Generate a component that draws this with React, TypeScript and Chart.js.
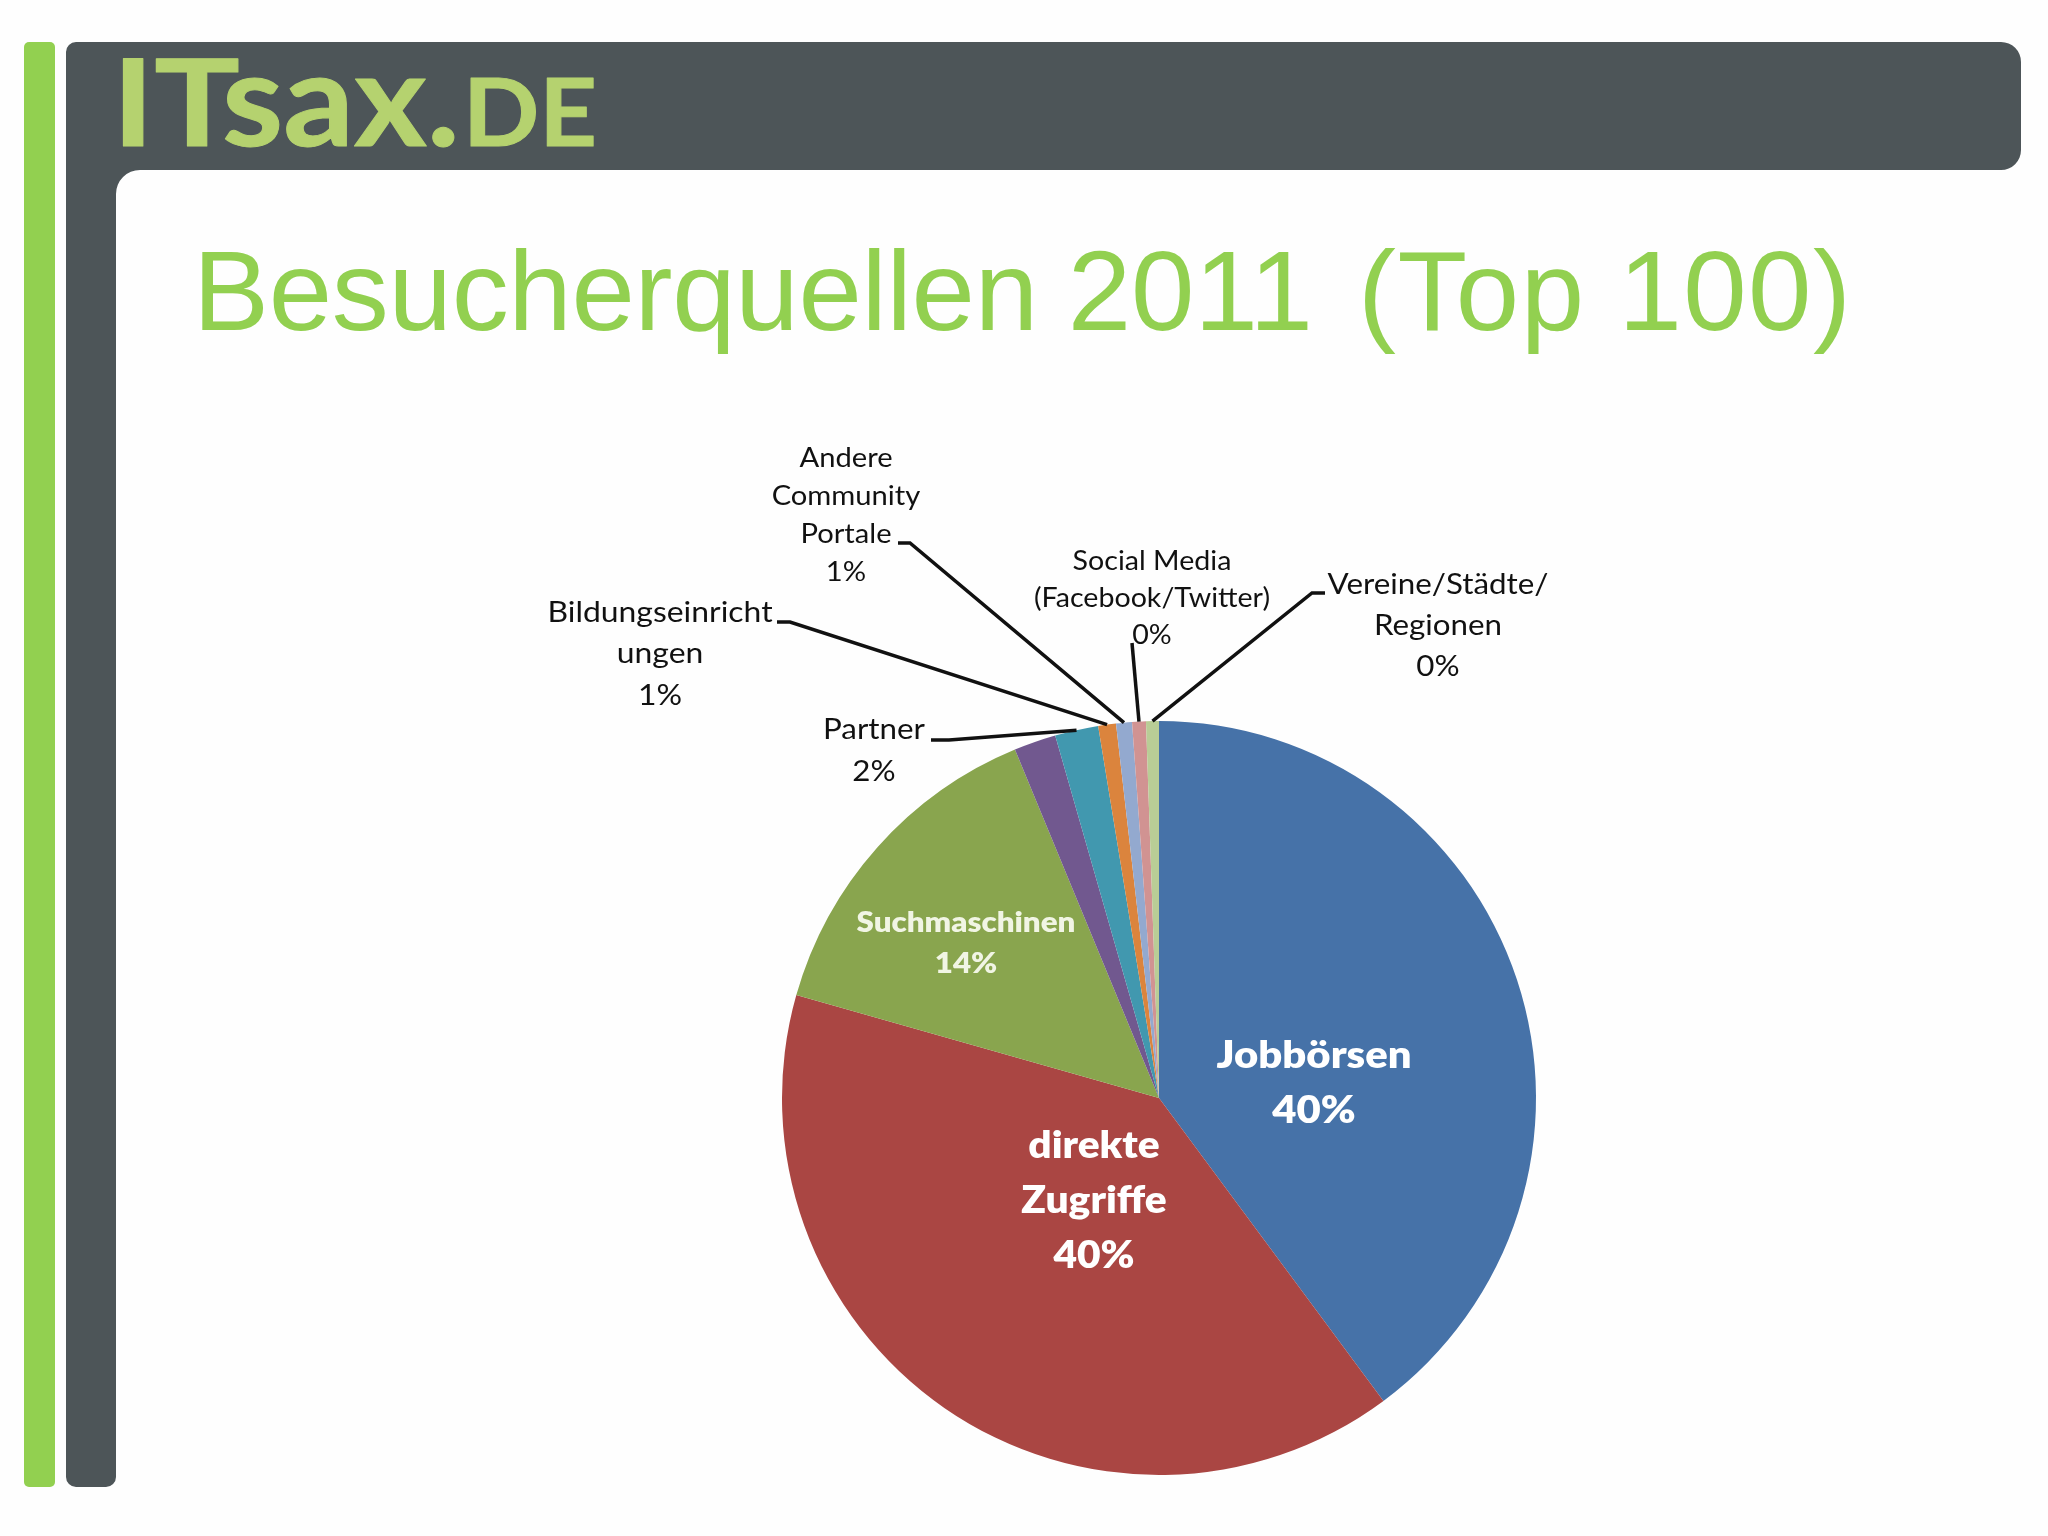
import React, { useEffect, useRef } from "react";
import { Chart, registerables } from "chart.js";

Chart.register(...registerables);

// The picture has nine slices; the ninth (unlabelled, purple) is kept as its own category.
const sliceNames = [
  "Jobbörsen",
  "direkte Zugriffe",
  "Suchmaschinen",
  "(ohne Beschriftung)",
  "Partner",
  "Bildungseinrichtungen",
  "Andere Community Portale",
  "Social Media (Facebook/Twitter)",
  "Vereine/Städte/Regionen",
];
const shares = [39.85, 39.55, 14.36, 1.8, 1.86, 0.76, 0.68, 0.59, 0.55];
const sliceColours = [
  "#4672a8", "#aa4643", "#89a54e", "#71588f", "#4198af",
  "#db843d", "#93a9cf", "#d19392", "#b9cd96",
];

const titleWords = ["Besucherquellen", "2011", "(Top 100)"];

type Label = {
  lines: string[];
  cx: number;
  ys: number[];
  size: number;
  sx: number;
  colour: string;
  weight: number;
  slice?: number;
  elbow?: number[][];
};

const DARK = "#111111";
const labels: Label[] = [
  { lines: ["Jobbörsen", "40%"], cx: 1314, ys: [1056, 1111], size: 38, sx: 1.1, colour: "#ffffff", weight: 800 },
  { lines: ["direkte", "Zugriffe", "40%"], cx: 1094, ys: [1146, 1201, 1256], size: 38, sx: 1.07, colour: "#ffffff", weight: 800 },
  { lines: ["Suchmaschinen", "14%"], cx: 966, ys: [923, 964], size: 29, sx: 1.08, colour: "#f1f5e4", weight: 800 },
  { lines: ["Partner", "2%"], cx: 874, ys: [730, 772], size: 29, sx: 1.08, colour: DARK, weight: 400, slice: 4, elbow: [[931, 740], [949, 740]] },
  { lines: ["Bildungseinricht", "ungen", "1%"], cx: 660, ys: [613, 654, 696], size: 29, sx: 1.1, colour: DARK, weight: 400, slice: 5, elbow: [[777, 622], [790, 622]] },
  { lines: ["Andere", "Community", "Portale", "1%"], cx: 846, ys: [458, 496, 534, 572], size: 27, sx: 1.08, colour: DARK, weight: 400, slice: 6, elbow: [[898, 543], [910, 543]] },
  { lines: ["Social Media", "(Facebook/Twitter)", "0%"], cx: 1152, ys: [562, 599, 636], size: 26, sx: 1.1, colour: DARK, weight: 400, slice: 7, elbow: [[1132, 643]] },
  { lines: ["Vereine/Städte/", "Regionen", "0%"], cx: 1438, ys: [585, 626, 667], size: 29, sx: 1.08, colour: DARK, weight: 400, slice: 8, elbow: [[1325, 593], [1312, 593]] },
];

const labelPlugin = {
  id: "sliceLabels",
  afterDatasetsDraw(chart: any) {
    const { ctx } = chart;
    const arcs = chart.getDatasetMeta(0).data;
    ctx.save();
    for (const l of labels) {
      if (l.slice !== undefined && l.elbow) {
        const a = arcs[l.slice];
        const mid = (a.startAngle + a.endAngle) / 2;
        const tx = a.x + Math.cos(mid) * a.outerRadius;
        const ty = a.y + Math.sin(mid) * a.outerRadius;
        ctx.beginPath();
        l.elbow.forEach((p, i) => (i === 0 ? ctx.moveTo(p[0], p[1]) : ctx.lineTo(p[0], p[1])));
        ctx.lineTo(tx, ty);
        ctx.strokeStyle = "#111111";
        ctx.lineWidth = 3.5;
        ctx.stroke();
      }
      ctx.font = `${l.weight} ${l.size}px Lato`;
      ctx.fillStyle = l.colour;
      ctx.textAlign = "center";
      ctx.textBaseline = "middle";
      l.lines.forEach((t, i) => {
        ctx.save();
        ctx.translate(l.cx, l.ys[i]);
        ctx.scale(l.sx, 1);
        ctx.fillText(t, 0, 0);
        ctx.restore();
      });
    }
    ctx.restore();
  },
};

export default function App() {
  const ref = useRef<HTMLCanvasElement>(null);
  useEffect(() => {
    const chart = new Chart(ref.current!, {
      type: "pie",
      data: {
        labels: sliceNames,
        datasets: [{ data: shares, backgroundColor: sliceColours, borderWidth: 0 }],
      },
      options: {
        animation: false,
        responsive: false,
        layout: { padding: { left: 782, right: 512, top: 721, bottom: 61 } },
        plugins: { legend: { display: false }, tooltip: { enabled: false } },
      },
      plugins: [labelPlugin],
    });
    return () => chart.destroy();
  }, []);
  return (
    <div style={{ position: "absolute", left: 0, top: 0, width: 2048, height: 1536, background: "#fefefe", overflow: "hidden" }}>
      <svg width={2048} height={1536} style={{ position: "absolute", left: 0, top: 0 }}>
        <rect x={24} y={42} width={31} height={1445} rx={5} fill="#92d050" />
        <path
          d="M76 42H2001A20 20 0 0 1 2021 62V150A20 20 0 0 1 2001 170H140A24 24 0 0 0 116 194V1477A10 10 0 0 1 106 1487H76A10 10 0 0 1 66 1477V52A10 10 0 0 1 76 42Z"
          fill="#4d5558"
        />
        <g fill="#b5d26f" stroke="#b5d26f" strokeWidth={1} strokeLinejoin="round" fontFamily="Lato" fontWeight={700}>
          <text x={112} y={146} fontSize={120} textLength={128} lengthAdjust="spacingAndGlyphs">IT</text>
          <text x={222} y={146} fontSize={130} textLength={238} lengthAdjust="spacingAndGlyphs">sax.</text>
          <text x={463} y={146} fontSize={94} textLength={134} lengthAdjust="spacingAndGlyphs">DE</text>
        </g>
        <text y={330} fontFamily="'Liberation Sans'" fontSize={114} fill="#92d050">
          <tspan x={193} letterSpacing={-0.3}>{titleWords[0]}</tspan>
          <tspan x={1036} letterSpacing={0}>{" " + titleWords[1]}</tspan>
          <tspan x={1325} letterSpacing={1.4}>{" " + titleWords[2]}</tspan>
        </text>
      </svg>
      <canvas ref={ref} width={2048} height={1536} style={{ position: "absolute", left: 0, top: 0 }} />
    </div>
  );
}
